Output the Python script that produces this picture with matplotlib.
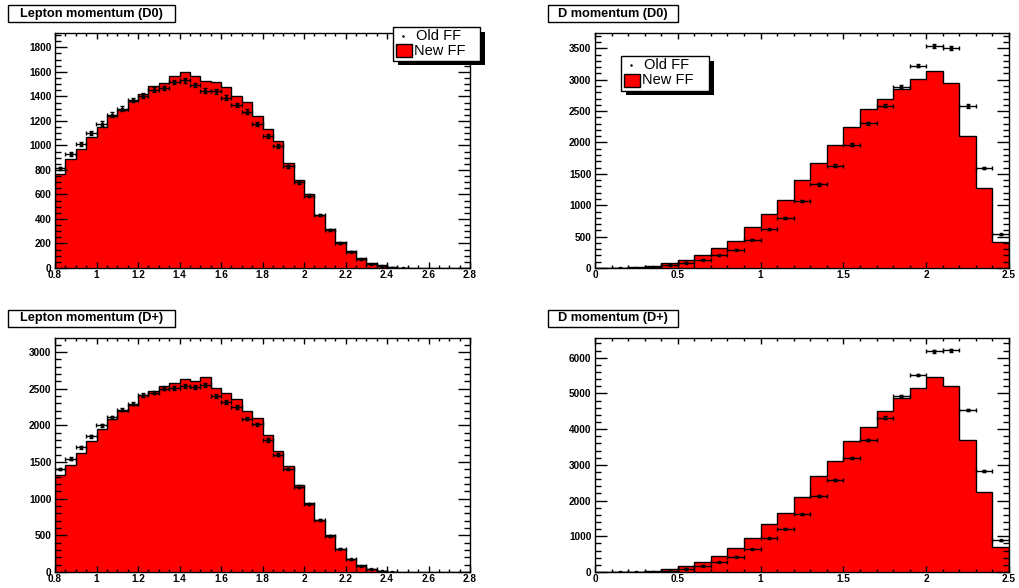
import matplotlib
matplotlib.use("Agg")
import matplotlib.pyplot as plt
import numpy as np
from matplotlib.patches import Rectangle
from matplotlib.ticker import MultipleLocator, FormatStrFormatter

plt.rcParams['font.family'] = ['Liberation Sans', 'DejaVu Sans']

W, H = 1019, 588

# lepton momentum: 40 bins from 0.8 to 2.8
lep_edges = np.linspace(0.8, 2.8, 41)
lep_d0_new = [768, 888, 972, 1070, 1151, 1241, 1287, 1363, 1423, 1482,
              1507, 1564, 1602, 1569, 1523, 1515, 1474, 1406, 1354, 1241,
              1132, 1037, 855, 717, 605, 434, 318, 209, 138, 81,
              41, 22, 6, 1, 0, 0, 0, 0, 0, 0]
lep_d0_old = [812, 931, 1013, 1102, 1178, 1252, 1300, 1371, 1406, 1455,
              1469, 1518, 1531, 1493, 1447, 1442, 1390, 1330, 1276, 1176,
              1078, 996, 828, 698, 589, 432, 312, 201, 133, 73,
              33, 16, 4, 1, 0, 0, 0, 0, 0, 0]
lep_dp_new = [1318, 1464, 1627, 1786, 1945, 2082, 2191, 2282, 2418, 2468,
              2541, 2577, 2627, 2604, 2659, 2513, 2441, 2359, 2195, 2104,
              1873, 1654, 1445, 1182, 941, 714, 500, 318, 182, 91,
              45, 14, 4, 1, 0, 0, 0, 0, 0, 0]
lep_dp_old = [1404, 1545, 1700, 1850, 2000, 2109, 2213, 2295, 2413, 2445,
              2500, 2509, 2536, 2518, 2545, 2400, 2318, 2250, 2091, 2013,
              1800, 1600, 1404, 1163, 923, 704, 495, 318, 177, 82,
              41, 9, 3, 0, 0, 0, 0, 0, 0, 0]

# D momentum: 25 bins from 0 to 2.5
d_edges = np.linspace(0.0, 2.5, 26)
d_d0_new = [1, 3, 8, 30, 80, 127, 207, 318, 435, 647, 864, 1087, 1395,
            1670, 1957, 2254, 2540, 2699, 2858, 3012, 3134, 2943, 2105, 1267, 414]
d_d0_old = [0, 2, 5, 15, 53, 85, 133, 207, 292, 451, 615, 801, 1066,
            1331, 1633, 1962, 2307, 2588, 2890, 3224, 3542, 3505, 2583, 1596, 536]
d_dp_new = [1, 4, 10, 25, 75, 175, 268, 446, 660, 942, 1334, 1652, 2109,
            2687, 3107, 3667, 4059, 4516, 4880, 5160, 5459, 5207, 3686, 2230, 690]
d_dp_old = [0, 2, 5, 12, 38, 95, 180, 280, 429, 644, 942, 1209, 1614,
            2127, 2575, 3182, 3704, 4320, 4927, 5515, 6177, 6205, 4535, 2818, 886]

fig = plt.figure(figsize=(W / 100, H / 100), dpi=100)
fig.patch.set_facecolor('white')


def fx(px):
    return px / W


def fy(py):
    return 1 - py / H


def frame(x0, y0, x1, y1, **kw):
    # rectangle given in pixel coords, y measured from the top
    r = Rectangle((fx(x0), fy(y1)), fx(x1) - fx(x0), fy(y0) - fy(y1),
                  transform=fig.transFigure, **kw)
    fig.add_artist(r)
    return r


def title_box(x0, y0, x1, y1, text):
    frame(x0, y0, x1, y1, facecolor='white', edgecolor='black', lw=1, zorder=5)
    fig.text(fx((x0 + x1) / 2), fy((y0 + y1) / 2), text, ha='center', va='center',
             fontsize=9.2, fontweight='bold', zorder=6)


def legend_box(x0, y0, x1, y1):
    frame(x0 + 5, y0 + 5, x1 + 5, y1 + 4, facecolor='black', edgecolor='black', lw=0, zorder=5)
    frame(x0, y0, x1, y1, facecolor='white', edgecolor='black', lw=1, zorder=6)
    row1 = y0 + (y1 - y0) * 0.27
    row2 = y0 + (y1 - y0) * 0.70
    fig.add_artist(plt.Line2D([fx(x0 + 10)], [fy(row1)], marker='o', ms=0.8,
                              color='black', transform=fig.transFigure, zorder=7))
    fig.text(fx(x0 + 23), fy(row1), 'Old FF', ha='left', va='center', fontsize=10.5, zorder=7)
    frame(x0 + 3, row2 - 6.5, x0 + 19, row2 + 6.5, facecolor='red', edgecolor='black', lw=1, zorder=7)
    fig.text(fx(x0 + 20.5), fy(row2), 'New FF', ha='left', va='center', fontsize=10.5, zorder=7)


def panel(x0, y0, x1, y1, edges, new, old, ymax, xmaj, xmin, ymaj, ymin):
    ax = fig.add_axes([fx(x0), fy(y1), fx(x1) - fx(x0), fy(y0) - fy(y1)])
    new = np.asarray(new, float)
    old = np.asarray(old, float)
    ax.stairs(new, edges, fill=True, facecolor='red', edgecolor='none')
    ax.stairs(new, edges, color='black', lw=1)
    centers = 0.5 * (edges[:-1] + edges[1:])
    half = 0.5 * np.diff(edges)
    m = old > 0
    ax.errorbar(centers[m], old[m], xerr=half[m], yerr=0.5 * np.sqrt(old[m]),
                fmt='s', ms=1.7, color='black', elinewidth=1, capsize=1.5, capthick=1)
    ax.set_xlim(edges[0], edges[-1])
    ax.set_ylim(0, ymax)
    ax.xaxis.set_major_locator(MultipleLocator(xmaj))
    ax.xaxis.set_minor_locator(MultipleLocator(xmin))
    ax.yaxis.set_major_locator(MultipleLocator(ymaj))
    ax.yaxis.set_minor_locator(MultipleLocator(ymin))
    ax.xaxis.set_major_formatter(FormatStrFormatter('%g'))
    ax.yaxis.set_major_formatter(FormatStrFormatter('%g'))
    ax.tick_params(axis='both', which='both', direction='in', top=True, right=True,
                   width=1, color='black', labelsize=7.2)
    ax.tick_params(axis='x', which='major', length=4.5, pad=1.5)
    ax.tick_params(axis='x', which='minor', length=2.2)
    ax.tick_params(axis='y', which='major', length=8.6, pad=2.5)
    ax.tick_params(axis='y', which='minor', length=4.3)
    for lab in ax.get_xticklabels() + ax.get_yticklabels():
        lab.set_fontweight('bold')
    for s in ax.spines.values():
        s.set_linewidth(1)
    return ax


panel(55, 33, 470, 268, lep_edges, lep_d0_new, lep_d0_old, 1917, 0.2, 0.05, 200, 50)
panel(595, 33, 1009, 268, d_edges, d_d0_new, d_d0_old, 3745, 0.5, 0.1, 500, 100)
panel(55, 338, 470, 572, lep_edges, lep_dp_new, lep_dp_old, 3190, 0.2, 0.05, 500, 100)
panel(595, 338, 1009, 572, d_edges, d_dp_new, d_dp_old, 6550, 0.5, 0.1, 1000, 200)

title_box(8, 5, 175, 22, 'Lepton momentum (D0)')
title_box(548, 5, 678, 22, 'D momentum (D0)')
title_box(8, 310, 175, 327, 'Lepton momentum (D+)')
title_box(548, 310, 678, 327, 'D momentum (D+)')

legend_box(393, 27, 480, 61)
legend_box(621, 56, 709, 91)

fig.savefig('out.png', dpi=100, facecolor='white')
